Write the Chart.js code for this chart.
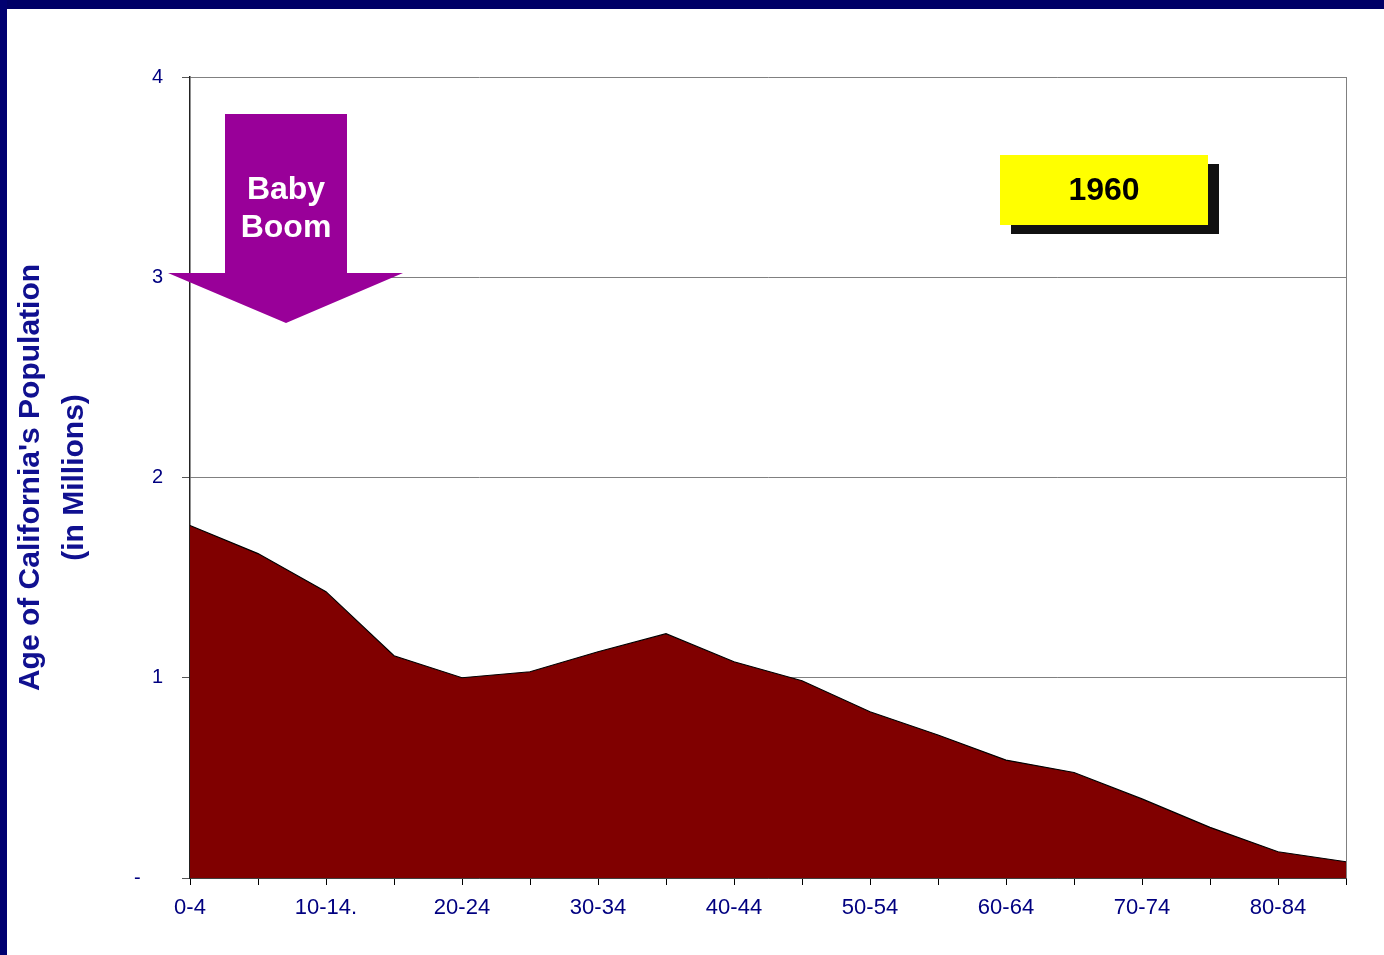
<!DOCTYPE html>
<html>
<head>
<meta charset="utf-8">
<script src="https://cdn.jsdelivr.net/npm/chart.js@4"></script>
<style>
  html, body { margin: 0; padding: 0; background: #fff; }
  canvas { display: block; }
</style>
</head>
<body>
<canvas id="popChart" width="1384" height="955"></canvas>
<script>
const ageGroups = ['0-4', '5-9', '10-14.', '15-19', '20-24', '25-29', '30-34', '35-39', '40-44',
    '45-49', '50-54', '55-59', '60-64', '65-69', '70-74', '75-79', '80-84', '85+'];
const population = [1.76, 1.62, 1.43, 1.11, 1.00, 1.03, 1.13, 1.22, 1.08,
    0.985, 0.83, 0.714, 0.589, 0.527, 0.395, 0.253, 0.131, 0.081];
const yTicks = [0, 1, 2, 3, 4];
const yearLabel = '1960';
const arrowText = ['Baby', 'Boom'];

const navy = '#000080';
const fontFamily = '"Liberation Sans", Arial, sans-serif';

// frame, arrow and year box drawn on top of the chart
const decorations = {
    id: 'decorations',
    beforeDraw(chart) {
        const ctx = chart.ctx;
        ctx.save();
        ctx.fillStyle = '#000066';
        ctx.fillRect(0, 0, chart.width, 9);
        ctx.fillStyle = '#000070';
        ctx.fillRect(0, 0, 7, chart.height);
        ctx.restore();
    },
    afterDraw(chart) {
        const ctx = chart.ctx;
        const area = chart.chartArea;
        ctx.save();

        // right edge of plot frame
        ctx.strokeStyle = '#808080';
        ctx.lineWidth = 1;
        ctx.beginPath();
        ctx.moveTo(area.right + 0.5, area.top);
        ctx.lineTo(area.right + 0.5, area.bottom);
        ctx.stroke();

        // baby boom arrow
        ctx.fillStyle = '#990099';
        ctx.beginPath();
        ctx.moveTo(225, 114);
        ctx.lineTo(347, 114);
        ctx.lineTo(347, 273);
        ctx.lineTo(403, 273);
        ctx.lineTo(286, 323);
        ctx.lineTo(168, 273);
        ctx.lineTo(225, 273);
        ctx.closePath();
        ctx.fill();

        ctx.fillStyle = '#fff';
        ctx.font = 'bold 32px ' + fontFamily;
        ctx.textAlign = 'center';
        ctx.textBaseline = 'middle';
        ctx.fillText(arrowText[0], 286, 190);
        ctx.fillText(arrowText[1], 286, 228);

        // year box with shadow
        ctx.fillStyle = '#111';
        ctx.fillRect(1011, 164, 208, 70);
        ctx.fillStyle = '#ffff00';
        ctx.fillRect(1000, 155, 208, 70);
        ctx.fillStyle = '#000';
        ctx.fillText(yearLabel, 1104, 191);

        ctx.restore();
    }
};

new Chart(document.getElementById('popChart'), {
    type: 'line',
    data: {
        labels: ageGroups,
        datasets: [{
            data: population,
            fill: 'origin',
            backgroundColor: '#800000',
            borderColor: '#000',
            borderWidth: 1.2,
            tension: 0,
            pointRadius: 0
        }]
    },
    options: {
        responsive: false,
        animation: false,
        events: [],
        layout: { padding: { top: 77, right: 38, left: 0, bottom: 0 } },
        plugins: {
            legend: { display: false },
            tooltip: { enabled: false }
        },
        scales: {
            x: {
                offset: false,
                afterFit: (scale) => { scale.height = 77; },
                border: { display: true, color: '#000', width: 1.5 },
                grid: {
                    drawOnChartArea: false,
                    drawTicks: true,
                    tickLength: 7,
                    tickColor: '#000'
                },
                ticks: {
                    autoSkip: false,
                    maxRotation: 0,
                    padding: 10,
                    color: navy,
                    font: { family: fontFamily, size: 22 },
                    callback: (val, i) => (i % 2 === 0 ? ageGroups[i] : '')
                }
            },
            y: {
                min: 0,
                max: 4,
                afterFit: (scale) => { scale.width = 190; },
                afterBuildTicks: (scale) => { scale.ticks = yTicks.map(v => ({ value: v })); },
                border: { display: true, color: '#222', width: 1.5 },
                grid: {
                    color: '#808080',
                    lineWidth: 1,
                    tickLength: 8,
                    tickColor: '#555'
                },
                ticks: {
                    padding: 19,
                    color: navy,
                    font: { family: fontFamily, size: 20 },
                    callback: (v) => (v === 0 ? '-\u00a0\u00a0\u00a0\u00a0' : String(v))
                },
                title: {
                    display: true,
                    text: ["Age of California's Population", '(in Millions)'],
                    color: '#101090',
                    padding: { top: 9, bottom: 0 },
                    font: { family: fontFamily, size: 30, weight: 'bold', lineHeight: '44px' }
                }
            }
        }
    },
    plugins: [decorations]
});
</script>
</body>
</html>
